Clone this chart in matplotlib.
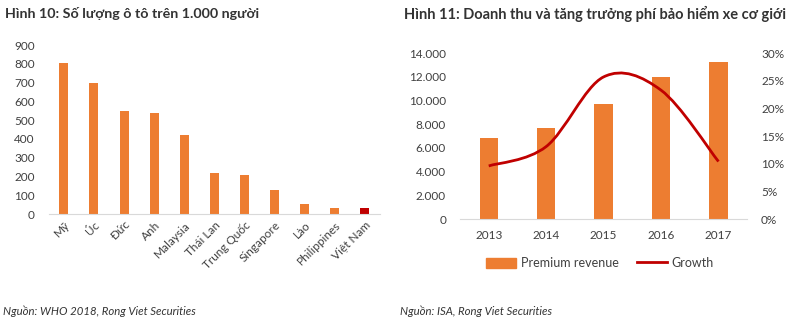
import numpy as np
import matplotlib.pyplot as plt
from matplotlib.path import Path
from matplotlib.patches import PathPatch, Patch
from matplotlib.lines import Line2D

plt.rcParams['font.family'] = ['Lato', 'DejaVu Sans']

# Hinh 10 data
countries = ['Mỹ', 'Úc', 'Đức', 'Anh', 'Malaysia', 'Thái Lan', 'Trung Quốc',
             'Singapore', 'Lào', 'Philippines', 'Việt Nam']
cars_per_1000 = [806, 699, 546, 539, 419, 216, 206, 128, 52, 30, 32]

# Hinh 11 data
years = ['2013', '2014', '2015', '2016', '2017']
premium_revenue = [6810, 7705, 9705, 12008, 13274]
growth = [0.096, 0.131, 0.257, 0.233, 0.104]

ORANGE = '#ED7D31'
RED = '#C00000'
TXT = '#404040'
AXIS = '#D9D9D9'

fig = plt.figure(figsize=(8, 3.24), dpi=100)

# ---- left chart
ax1 = fig.add_axes([0.061, 0.3395, 0.414, 0.5215])
colors = [ORANGE] * (len(countries) - 1) + [RED]
ax1.bar(range(len(countries)), cars_per_1000, width=0.3, color=colors)
ax1.set_ylim(0, 900)
ax1.set_xlim(-0.5, len(countries) - 0.5)
ax1.set_yticks(range(0, 901, 100))
ax1.set_xticks(range(len(countries)))
ax1.set_xticklabels(countries, rotation=45, ha='right', rotation_mode='anchor')
for s in ['top', 'right', 'left']:
    ax1.spines[s].set_visible(False)
ax1.spines['bottom'].set_color(AXIS)
ax1.tick_params(length=0, colors=TXT, labelsize=8.5)
ax1.tick_params(axis='y', pad=10)
ax1.tick_params(axis='x', pad=4)

# ---- right chart
ax2 = fig.add_axes([0.575, 0.324, 0.359, 0.512])
x = np.arange(len(years))
ax2.bar(x, premium_revenue, width=0.32, color=ORANGE)
ax2.set_ylim(0, 14000)
ax2.set_xlim(-0.5, len(years) - 0.5)
ax2.set_yticks(range(0, 14001, 2000))
ax2.set_yticklabels([f'{v:,}'.replace(',', '.') for v in range(0, 14001, 2000)])
ax2.set_xticks(x)
ax2.set_xticklabels(years)
for s in ['top', 'right', 'left']:
    ax2.spines[s].set_visible(False)
ax2.spines['bottom'].set_color(AXIS)
ax2.tick_params(length=0, colors=TXT, labelsize=8.5)
ax2.tick_params(axis='y', pad=10)
ax2.tick_params(axis='x', pad=8)

ax3 = ax2.twinx()
ax3.set_ylim(0, 0.30)
ax3.set_yticks(np.arange(0, 0.301, 0.05))
ax3.set_yticklabels([f'{int(round(v * 100))}%' for v in np.arange(0, 0.301, 0.05)])
for s in ax3.spines.values():
    s.set_visible(False)
ax3.tick_params(length=0, colors=TXT, labelsize=8.5, pad=10)

# smoothed line (Catmull-Rom style bezier, like Excel)
pts = np.column_stack([x, growth])
verts = [pts[0]]
codes = [Path.MOVETO]
for i in range(len(pts) - 1):
    p0 = pts[i - 1] if i > 0 else pts[i]
    p1, p2 = pts[i], pts[i + 1]
    p3 = pts[i + 2] if i + 2 < len(pts) else pts[i + 1]
    c1 = p1 + (p2 - p0) / 6
    c2 = p2 - (p3 - p1) / 6
    verts += [c1, c2, p2]
    codes += [Path.CURVE4] * 3
ax3.add_patch(PathPatch(Path(verts, codes), fill=False, edgecolor=RED, lw=2))

handles = [Patch(color=ORANGE, label='Premium revenue'),
           Line2D([], [], color=RED, lw=2, label='Growth')]
fig.legend(handles=handles, loc='center', bbox_to_anchor=(0.75, 0.188), ncol=2,
           frameon=False, fontsize=9, labelcolor=TXT, handlelength=2.4,
           handleheight=0.9, columnspacing=1.4, handletextpad=0.4)

# titles and sources
fig.text(0.006, 0.957, 'Hình 10: Số lượng ô tô trên 1.000 người', fontsize=10.3,
         fontweight='bold', color='#333333', va='center')
fig.text(0.505, 0.957, 'Hình 11: Doanh thu và tăng trưởng phí bảo hiểm xe cơ giới',
         fontsize=10.5, fontweight='bold', color='#333333', va='center')
fig.text(0.004, 0.04, 'Nguồn: WHO 2018, Rong Viet Securities', fontsize=8.2,
         style='italic', color='#333333', va='center')
fig.text(0.5, 0.04, 'Nguồn: ISA, Rong Viet Securities', fontsize=8.2,
         style='italic', color='#333333', va='center')

fig.savefig('out.png', dpi=100)
